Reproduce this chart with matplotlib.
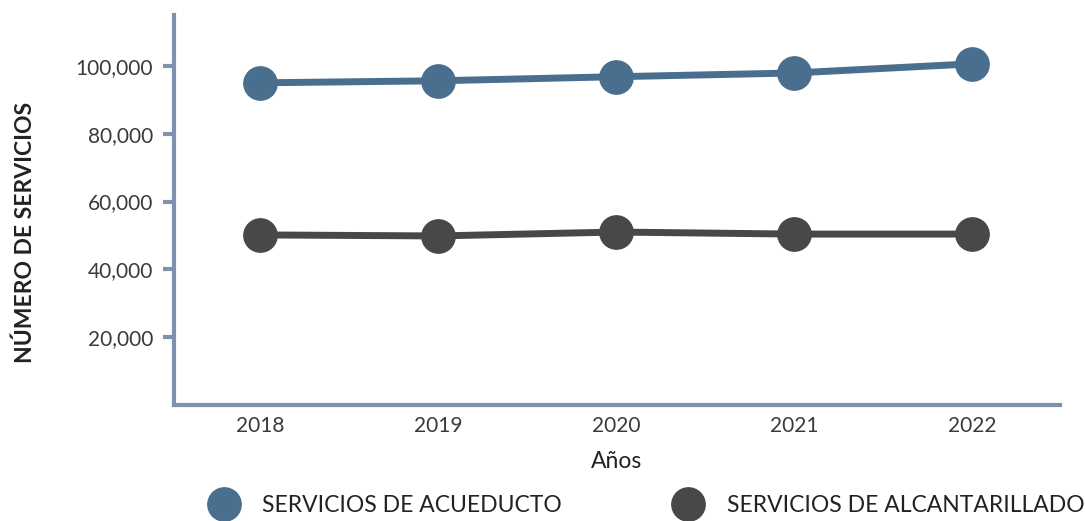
import matplotlib
matplotlib.use("Agg")
import matplotlib.pyplot as plt
from matplotlib.ticker import FuncFormatter

years = [2018, 2019, 2020, 2021, 2022]
acueducto = [95000, 95600, 96800, 97900, 100600]
alcantarillado = [50150, 49850, 51000, 50400, 50400]
series_names = ["SERVICIOS DE ACUEDUCTO", "SERVICIOS DE ALCANTARILLADO"]
y_ticks = [20000, 40000, 60000, 80000, 100000]

plt.rcParams['font.family'] = ['Lato', 'DejaVu Sans']

W, H = 1085, 521
fig = plt.figure(figsize=(W / 100, H / 100), dpi=100)
ax = fig.add_axes([174 / W, 1 - 405 / H, (1060 - 174) / W, (405 - 15) / H])

blue = "#4a6f8e"
dark = "#484848"
spine_c = "#8090b0"

ax.plot(years, acueducto, color=blue, lw=5, marker="o", ms=24, label=series_names[0], zorder=3)
ax.plot(years, alcantarillado, color=dark, lw=5, marker="o", ms=24, label=series_names[1], zorder=3)

ax.set_xlim(2017.517, 2022.495)
ax.set_ylim(0, 115000)
ax.set_yticks(y_ticks)
ax.yaxis.set_major_formatter(FuncFormatter(lambda v, p: f"{int(v):,}"))
ax.set_xticks(years)
ax.set_xticklabels([str(y) for y in years])

for s in ["top", "right"]:
    ax.spines[s].set_visible(False)
for s in ["left", "bottom"]:
    ax.spines[s].set_color(spine_c)
    ax.spines[s].set_linewidth(3)

ax.tick_params(axis="y", length=8, width=3, color=spine_c, labelsize=15, labelcolor="#3a3a3a", pad=7)
ax.tick_params(axis="x", length=0, labelsize=15, labelcolor="#3a3a3a", pad=8)

ax.set_xlabel("Años", fontsize=16.5, color="#222222", labelpad=11)
fig.text(25 / W, 1 - 232 / H, "NÚMERO DE SERVICIOS", rotation=90, fontsize=16.5,
         color="#222222", ha="center", va="center", fontweight="bold")

fig.legend(loc="center left", bbox_to_anchor=(196 / W, 1 - 506 / H), ncol=2, frameon=False,
           prop={"size": 16.5}, handlelength=0.6, handletextpad=1.4,
           columnspacing=5.2, labelcolor="#222222")
for t in fig.legends[0].get_lines():
    t.set_linestyle("none")

fig.savefig("out.png", dpi=100)
